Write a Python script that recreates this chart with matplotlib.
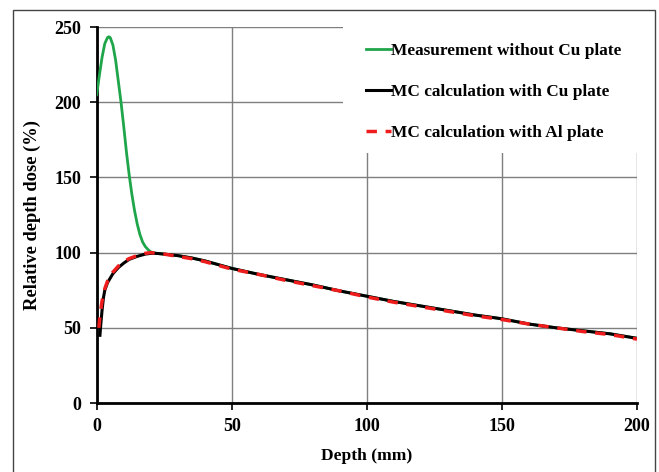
import matplotlib
matplotlib.use("Agg")
import matplotlib.pyplot as plt
from matplotlib.patches import Rectangle

# Data
meas_x = [0, 1, 2, 3, 4, 4.5, 5, 6, 7, 8, 9, 10, 11, 12, 13, 14, 15, 16, 17, 18, 19, 20, 21, 22, 25,
          30, 35, 40, 45, 50, 60, 70, 80, 90, 100, 110, 120, 130, 140, 150, 160, 170, 180, 190, 200]
meas_y = [205, 218, 230, 239, 243, 243.5, 243, 238, 228, 214, 200, 184, 167, 152, 139, 128, 119, 112, 107, 104, 102, 100.5, 100, 99.5, 99,
          98, 96.5, 94.5, 92, 89.5, 85.5, 82, 78.5, 74.5, 71, 67.5, 64.5, 61.5, 58.5, 56, 52.5, 50, 48, 46, 43]

cu_x = [1.2, 1.5, 2, 2.5, 3, 4, 5, 6, 8, 10, 12, 15, 18, 20, 22, 25, 30, 35, 40, 45, 50,
        60, 70, 80, 90, 100, 110, 120, 130, 140, 150, 160, 170, 180, 190, 200]
cu_y = [45, 52, 62, 70, 75, 80, 83, 86, 90, 93, 95.5, 97.5, 99, 99.5, 99.5, 99, 98, 96.5, 94.5, 92, 89.5,
        85.5, 82, 78.5, 74.5, 71, 67.5, 64.5, 61.5, 58.5, 56, 52.5, 50, 48, 46, 43]

al_x = [0.8, 1.2, 2, 3, 4, 5, 6, 8, 10, 12, 15, 18, 20, 22, 25, 30, 35, 40, 45, 50,
        60, 70, 80, 90, 100, 110, 120, 130, 140, 150, 160, 170, 180, 190, 200]
al_y = [50, 58, 68, 76, 81, 84, 87, 91, 94, 96, 98, 99.5, 100, 99.5, 99, 97.5, 96, 94, 91.5, 89,
        85.5, 81.5, 78, 74.5, 70.5, 67, 64, 61, 58, 55.5, 52.5, 50, 47.5, 45.5, 42.5]

x_ticks = [0, 50, 100, 150, 200]
y_ticks = [0, 50, 100, 150, 200, 250]

plt.rcParams['font.family'] = ['Liberation Serif', 'DejaVu Serif']
plt.rcParams['font.weight'] = 'bold'

fig = plt.figure(figsize=(6.59, 4.72), dpi=100)
# outer border
fig.patches.append(Rectangle((13/659, -0.05), (655-13)/659, 1.05 - 10/472,
                             transform=fig.transFigure, fill=False, edgecolor='#444444', lw=1.0))

ax = fig.add_axes([96.7/659, (472-403)/472, (637-96.7)/659, (403-27)/472])
ax.set_xlim(0, 200)
ax.set_ylim(0, 250)
ax.set_xticks(x_ticks)
ax.set_yticks(y_ticks)
ax.grid(True, color='#7f7f7f', lw=1.0)
ax.set_axisbelow(True)
for s in ['top', 'right']:
    ax.spines[s].set_visible(False)
for s in ['left', 'bottom']:
    ax.spines[s].set_linewidth(2.0)
    ax.spines[s].set_color('black')
ax.tick_params(direction='out', length=5, width=1.2, labelsize=13, pad=6)
for lab in ax.get_xticklabels() + ax.get_yticklabels():
    lab.set_fontweight('bold')

# white box behind legend
ax.add_patch(Rectangle(((343-96.7)/540.3, (403-153)/376), 0.6, 0.4, transform=ax.transAxes,
                       facecolor='white', edgecolor='none', zorder=1, clip_on=False))

l1, = ax.plot(meas_x, meas_y, color='#1fa54a', lw=2.0, zorder=3, label='Measurement without Cu plate')
l2, = ax.plot(cu_x, cu_y, color='black', lw=2.2, zorder=4, label='MC calculation with Cu plate')
l3, = ax.plot(al_x, al_y, color='#ee1c1c', lw=2.5, ls=(0, (3, 2.5)), zorder=5, label='MC calculation with Al plate')

ax.set_xlabel('Depth (mm)', fontsize=12.6, fontweight='bold', labelpad=9)
ax.set_ylabel('Relative depth dose (%)', fontsize=13.3, fontweight='bold', labelpad=10)

leg = ax.legend(handles=[l1, l2, l3], loc='upper left', bbox_to_anchor=(357/659, 1 - 34/472),
                bbox_transform=fig.transFigure, frameon=False, fontsize=12.4,
                handlelength=1.45, handletextpad=0.0, labelspacing=1.45, borderpad=0)
for t in leg.get_texts():
    t.set_fontweight('bold')

fig.savefig('out.png', dpi=100)
